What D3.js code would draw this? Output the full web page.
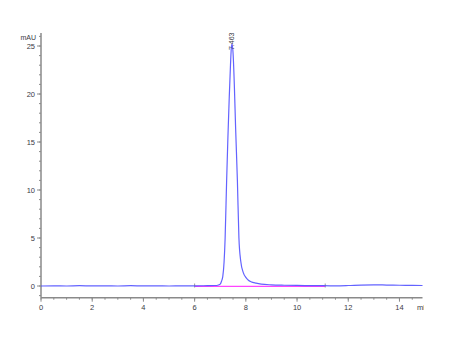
<!DOCTYPE html>
<html><head><meta charset="utf-8">
<script src="https://cdn.jsdelivr.net/npm/d3@7/dist/d3.min.js"></script>
<style>body{margin:0;background:#fff}svg{display:block}</style>
</head><body>
<script>
const times  = [0,0.5,1,1.5,2,2.5,3,3.5,4,4.5,5,5.5,6,6.5,6.8,6.9,7.0,7.05,7.1,7.15,7.19,7.25,7.3,7.35,7.4,7.44,7.463,7.5,7.55,7.6,7.67,7.73,7.8,7.9,8.0,8.1,8.2,8.4,8.6,9.0,9.5,10,10.5,11,11.5,12,12.5,13,13.5,14,14.5,14.9];
const values = [0.0,0.02,0.0,0.03,0.01,0.02,0.0,0.03,0.01,0.02,0.0,0.02,0.02,0.03,0.05,0.08,0.2,0.5,1.0,2.5,4.9,11,15.5,19.5,23,25,25.2,24.3,21,16.5,11,5,2.6,1.4,0.9,0.6,0.45,0.3,0.2,0.12,0.08,0.06,0.04,0.03,0.02,0.05,0.1,0.12,0.1,0.08,0.06,0.05];
const baselineTimes = [6.0, 11.1];
const baselineValues = [0, 0];
const peakTime = 7.463;
const peakValue = 25.2;
const xTickValues = [0,2,4,6,8,10,12,14];
const yTickValues = [0,5,10,15,20,25];

const W = 466, H = 342;
const svg = d3.select("body").append("svg").attr("width", W).attr("height", H);
const x = d3.scaleLinear().domain([0, 14.88]).range([41, 422]);
const y = d3.scaleLinear().domain([0, 25]).range([286, 46]);
const yBottom = y.invert(297.7), yTop = y.invert(33);

const axisColor = "#8a8a8a", textColor = "#3a3a44";
const font = "Arial, 'Liberation Sans', sans-serif";

// Y axis
const yAxis = svg.append("g").attr("transform", `translate(${x(0)},0)`);
yAxis.append("line").attr("x1",0).attr("x2",0).attr("y1",y(yTop)).attr("y2",y(yBottom))
  .attr("stroke",axisColor).attr("stroke-width",1.5);
const yMinor = d3.range(-1, 27, 1).filter(v => v >= yBottom && v <= yTop);
yAxis.selectAll(".ymin").data(yMinor).join("line")
  .attr("x1",-2).attr("x2",0).attr("y1",d=>y(d)).attr("y2",d=>y(d))
  .attr("stroke",axisColor).attr("stroke-width",1);
yAxis.selectAll(".ymaj").data(yTickValues).join("line")
  .attr("x1",-4).attr("x2",0).attr("y1",d=>y(d)).attr("y2",d=>y(d))
  .attr("stroke",axisColor).attr("stroke-width",1);
yAxis.selectAll(".ylab").data(yTickValues).join("text")
  .attr("x",-6).attr("y",d=>y(d)).attr("dy","0.35em").attr("text-anchor","end")
  .attr("font-family",font).attr("font-size",7.5).attr("fill",textColor).text(d=>d);
svg.append("text").attr("x",36).attr("y",40).attr("text-anchor","end")
  .attr("font-family",font).attr("font-size",7).attr("fill",textColor).text("mAU");

// X axis
const xAxis = svg.append("g").attr("transform", `translate(0,297.7)`);
xAxis.append("line").attr("x1",x(0)).attr("x2",422.5).attr("y1",0).attr("y2",0)
  .attr("stroke",axisColor).attr("stroke-width",1.5);
const xMinor = d3.range(0, 15, 0.5);
xAxis.selectAll(".xmin").data(xMinor).join("line")
  .attr("x1",d=>x(d)).attr("x2",d=>x(d)).attr("y1",0).attr("y2",2)
  .attr("stroke",axisColor).attr("stroke-width",1);
xAxis.selectAll(".xmaj").data(xTickValues).join("line")
  .attr("x1",d=>x(d)).attr("x2",d=>x(d)).attr("y1",0).attr("y2",4)
  .attr("stroke",axisColor).attr("stroke-width",1);
xAxis.selectAll(".xlab").data(xTickValues).join("text")
  .attr("x",d=>x(d)).attr("y",12).attr("text-anchor","middle")
  .attr("font-family",font).attr("font-size",7.5).attr("fill",textColor).text(d=>d);
svg.append("clipPath").attr("id","minclip").append("rect").attr("x",410).attr("y",300).attr("width",14).attr("height",15);
svg.append("text").attr("x",417).attr("y",309.7).attr("clip-path","url(#minclip)")
  .attr("font-family",font).attr("font-size",7.5).attr("fill",textColor).text("min");

// Baseline (magenta)
const pts = times.map((t,i)=>[t, values[i]]);
const bpts = baselineTimes.map((t,i)=>[t, baselineValues[i]]);
svg.append("path").datum(bpts)
  .attr("d", d3.line().x(d=>x(d[0])).y(d=>y(d[1])+0.3))
  .attr("fill","none").attr("stroke","#ff44ff").attr("stroke-width",1.2);
svg.selectAll(".bmark").data(bpts).join("line")
  .attr("x1",d=>x(d[0])).attr("x2",d=>x(d[0])).attr("y1",d=>y(d[1])-2.5).attr("y2",d=>y(d[1])+1.5)
  .attr("stroke","#999").attr("stroke-width",1);

// Trace
svg.append("path").datum(pts)
  .attr("d", d3.line().x(d=>x(d[0])).y(d=>y(d[1])).curve(d3.curveMonotoneX))
  .attr("fill","none").attr("stroke","#4848ff").attr("stroke-width",1.2).attr("stroke-opacity",0.85);

// Peak label
svg.append("text").attr("transform",`translate(${x(peakTime)+1.5},${y(peakValue)+6}) rotate(-90)`)
  .attr("font-family",font).attr("font-size",7).attr("fill",textColor).text(peakTime);
</script>
</body></html>
